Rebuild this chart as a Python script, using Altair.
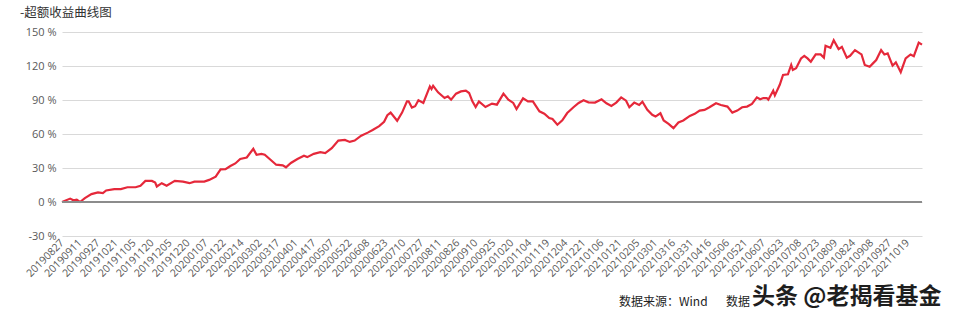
import altair as alt
import pandas as pd

# trading-day index (every 11th trading day carries a date label) and excess return (%)
day_index = [0, 5, 7, 9, 11, 14, 18, 22, 25, 27, 32, 36, 40, 45, 48, 51, 55, 57, 58, 61,
             64, 69, 74, 78, 81, 87, 90, 94, 97, 100, 103, 106, 109, 113, 117, 119, 122, 124, 127, 131,
             135, 137, 140, 144, 148, 150, 154, 158, 161, 165, 169, 173, 176, 179, 183, 187, 190, 194, 197, 199,
             201, 205, 208, 211, 212, 214, 216, 218, 221, 225, 226, 227, 230, 234, 236, 238, 241, 244, 247, 249,
             251, 253, 255, 259, 263, 266, 270, 273, 276, 278, 282, 285, 288, 292, 295, 298, 300, 303, 306, 309,
             313, 316, 319, 322, 326, 330, 333, 336, 339, 342, 345, 347, 350, 353, 355, 358, 361, 363, 366, 368,
             371, 374, 377, 380, 384, 387, 390, 393, 396, 400, 403, 407, 410, 413, 416, 419, 422, 425, 427, 429,
             431, 432, 435, 436, 439, 441, 444, 446, 447, 449, 452, 454, 456, 458, 461, 464, 466, 467, 470, 472,
             475, 477, 480, 482, 485, 488, 489, 491, 494, 496, 498, 501, 503, 505, 508, 510, 513, 516, 519, 521,
             524, 526]
excess_return = [0, 3, 1.5, 2, 0, 3.5, 7, 8.4, 7.9, 10.2, 11.4, 11.4, 13, 13, 14.3, 18.6, 18.6, 17.2, 13.7, 16.6,
                 14.3, 18.6, 18, 16.6, 18, 18, 19.5, 22.4, 28.8, 29, 31.7, 34, 37.9, 39.3, 46.9, 41.7, 42.5, 41.7, 37.9, 32.9,
                 32.3, 30.6, 34.4, 37.9, 40.8, 39.6, 42.5, 44, 43.1, 47.5, 54.2, 54.8, 53, 54.2, 58.5, 61.2, 63.5, 67, 70.8, 76.6,
                 78.9, 71.7, 78.9, 88.8, 88.8, 83.3, 84.5, 89.7, 87.4, 102, 99.7, 102.6, 96.8, 91.8, 93.2, 90.3, 95.6, 97.6, 98.2, 96.2,
                 88.8, 83.8, 88.8, 83.8, 86.8, 85.9, 95.6, 90.3, 87.4, 82.1, 91.5, 88.8, 88.8, 80, 77.9, 74.1, 73.2, 68.2, 72.1, 78.5,
                 83.8, 87.4, 89.7, 87.9, 87.7, 90.6, 87.1, 84.8, 87.7, 92.3, 89.4, 83.6, 87.7, 85.6, 88.5, 81.3, 76.9, 75.4, 78.3, 71.9,
                 69, 65.2, 70.2, 71.9, 76, 77.8, 80.7, 81.3, 83.6, 87.1, 85.6, 84.2, 78.9, 80.7, 83.6, 84.2, 86.5, 92.3, 90.6, 91.7,
                 91.7, 90.3, 98.2, 94.1, 103.4, 112.1, 112.7, 120.9, 116.5, 118, 126.7, 129, 126.7, 123.8, 130.2, 130.2, 127.3, 137.8, 136, 142.7,
                 134.9, 136.9, 127.3, 129, 134, 131.1, 130.2, 120.9, 119.4, 122.3, 125.2, 134, 130.2, 131.1, 120.3, 123.2, 114.5, 126.7, 130.2, 128.7,
                 140.7, 138.9]

date_labels = ["20190827", "20190911", "20190927", "20191021", "20191105", "20191120", "20191205", "20191220",
               "20200107", "20200122", "20200214", "20200302", "20200317", "20200401", "20200417", "20200507",
               "20200522", "20200608", "20200623", "20200710", "20200727", "20200811", "20200826", "20200910",
               "20200925", "20201020", "20201104", "20201119", "20201204", "20201221", "20210106", "20210121",
               "20210205", "20210301", "20210316", "20210331", "20210416", "20210506", "20210521", "20210607",
               "20210623", "20210708", "20210723", "20210809", "20210824", "20210908", "20210927", "20211019"]
label_step = 11
y_ticks = [-30, 0, 30, 60, 90, 120, 150]

title_text = "-超额收益曲线图"
source_text = "数据来源：Wind"
source_text2 = "数据"
watermark_text = "头条 @老揭看基金"

df = pd.DataFrame({"t": day_index, "v": excess_return})
tick_vals = [i * label_step for i in range(len(date_labels))]
label_js = "[" + ",".join("'" + d + "'" for d in date_labels) + "]"

W, H = 860, 204
x_scale = alt.Scale(domain=[0, 526], nice=False, zero=False)
y_scale = alt.Scale(domain=[-30, 150], nice=False)

y_axis = alt.Axis(values=y_ticks, labelExpr="datum.value + ' %'", grid=True,
                  gridColor="#D9D9D9", gridWidth=1, domain=False, ticks=False, labelOverlap=False,
                  labelFontSize=11, labelColor="#595959", labelPadding=6, labelFont="Open Sans")

line = alt.Chart(df).mark_line(color="#E5283A", strokeWidth=2.2).encode(
    x=alt.X("t:Q", scale=x_scale, title=None,
            axis=alt.Axis(values=tick_vals, labelExpr=label_js + "[round(datum.value/" + str(label_step) + ")]",
                          labelAngle=-45, labelAlign="right", labelBaseline="middle",
                          labelFontSize=10.5, labelColor="#595959", labelPadding=5,
                          ticks=False, domain=False, grid=False, labelOverlap=False, labelFont="Open Sans")),
    y=alt.Y("v:Q", scale=y_scale, title=None, axis=y_axis),
)

zero_rule = alt.Chart(pd.DataFrame({"v": [0]})).mark_rule(color="#8C8C8C", strokeWidth=2).encode(
    y=alt.Y("v:Q", scale=y_scale, title=None, axis=y_axis)
)

def txt(s, x, y, size, color="#333333", align="left", weight="normal"):
    return alt.Chart(pd.DataFrame({"s": [s]})).mark_text(
        align=align, baseline="middle", fontSize=size, color=color, font="Noto Sans CJK SC",
        fontWeight=weight
    ).encode(text="s:N", x=alt.value(x), y=alt.value(y))

chart = alt.layer(
    line,
    zero_rule,
    txt(title_text, -42, -19, 12.5),
    txt(source_text, 557, 270, 12, "#222222"),
    txt(source_text2, 664, 270, 12, "#222222"),
    txt(watermark_text, 690, 265, 23, "#1E1E1E", weight="bold"),
).properties(
    width=W, height=H,
    background="white",
    autosize=alt.AutoSizeParams(type="none"),
    padding={"left": 62, "top": 32, "right": 38, "bottom": 82},
).configure_view(stroke=None)

chart.save("out.html", embed_options={"renderer": "svg", "actions": False})
